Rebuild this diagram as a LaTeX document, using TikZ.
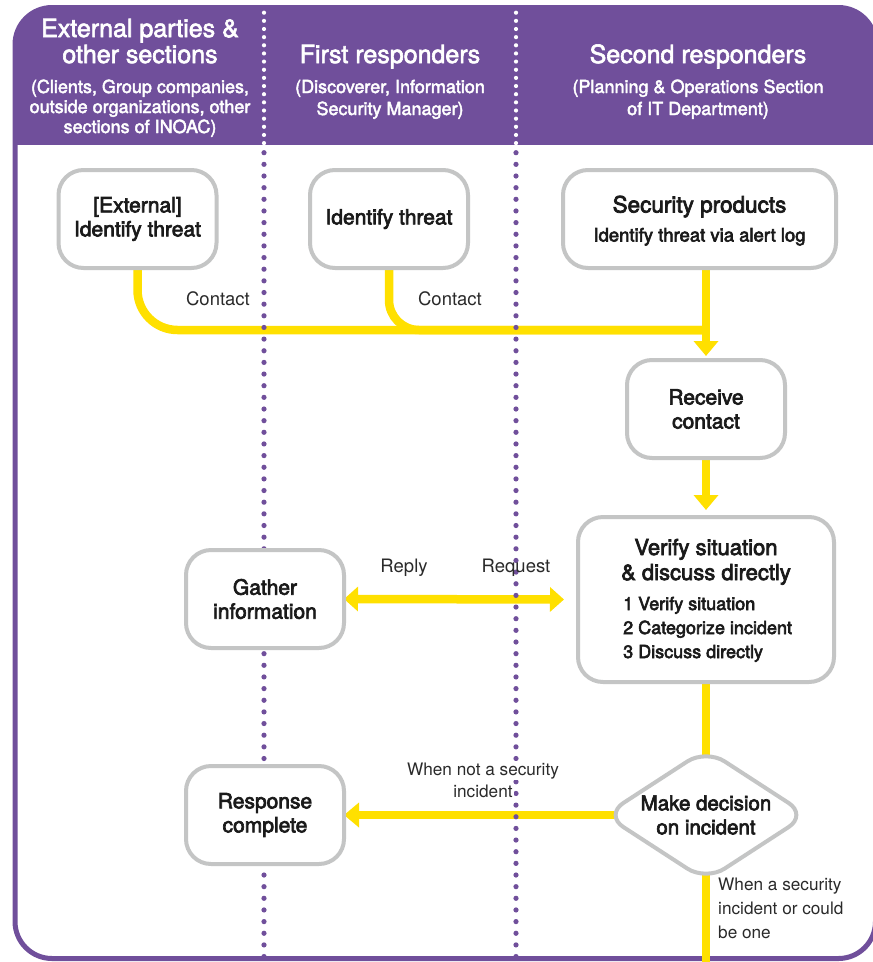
\documentclass[tikz,border=0pt]{standalone}
\usepackage{fontspec}
\setmainfont{TeX Gyre Heros}
\newfontfamily\medfont[FakeBold=3.2]{TeX Gyre Heros}
\newfontfamily\hdfont[FakeBold=2.5]{TeX Gyre Heros}
\usetikzlibrary{arrows.meta,shapes.geometric}
\definecolor{ipurple}{HTML}{704F9B}
\definecolor{iyellow}{HTML}{FFE000}
\definecolor{igray}{HTML}{C4C5C5}
\definecolor{itext}{HTML}{1A1A1A}
\definecolor{ilabel}{HTML}{2A2A2A}
\pgfdeclarelayer{bg}
\pgfdeclarelayer{lines}
\pgfdeclarelayer{dots}
\pgfsetlayers{bg,lines,dots,main}
\tikzset{
  box/.style={draw=igray, line width=4pt, rounded corners=25pt, fill=white,
    inner sep=0pt, align=center, text=itext,
    font=\medfont\fontsize{21}{24}\selectfont,
    minimum width=158pt, minimum height=98pt},
  dec/.style={diamond, aspect=1.54, draw=igray, line width=4pt, rounded corners=22pt,
    fill=white, inner sep=0pt, align=center, text=itext,
    font=\medfont\fontsize{20.5}{24}\selectfont,
    minimum width=204pt, minimum height=133pt},
  htitle/.style={anchor=base, text=white, inner sep=0pt, font=\hdfont\fontsize{25}{26}\selectfont},
  hsub/.style={anchor=base, text=white, inner sep=0pt, font=\hdfont\fontsize{18}{21}\selectfont},
  intxt/.style={anchor=base, text=itext, inner sep=0pt},
  lab/.style={anchor=base, text=ilabel, inner sep=0pt, font=\fontsize{18.5}{24}\selectfont},
  wlab/.style={anchor=base, text=ilabel, inner sep=1pt, font=\fontsize{17.2}{24}\selectfont},
  yline/.style={draw=iyellow, line width=8.5pt},
  ytip/.style={-{Triangle[width=24pt,length=15pt]}},
  hdots/.style={white, line width=4.2pt, line cap=round, dash pattern=on 0pt off 8.15pt},
  bdots/.style={ipurple, line width=5.2pt, line cap=round, dash pattern=on 0pt off 11.65pt},
}
\begin{document}
\begin{tikzpicture}[x=1pt, y=-1pt]
\useasboundingbox (0,0) rectangle (873,962);

% frame and header
\begin{pgfonlayer}{bg}
  \path[fill=white, rounded corners=37pt] (15,7.5) rectangle (875.5,958.5);
  \begin{scope}
    \clip[rounded corners=37pt] (15,7.5) rectangle (875.5,958.5);
    \fill[ipurple] (0,0) rectangle (880,145);
  \end{scope}
  \draw[ipurple, line width=5pt, rounded corners=37pt] (15,7.5) rectangle (875.5,958.5);
\end{pgfonlayer}

% lane separators
\begin{pgfonlayer}{dots}
  \foreach \lx in {264,516}{
    \draw[hdots] (\lx,12.7) -- (\lx,146);
    \draw[bdots] (\lx,152.7) -- (\lx,968);
  }
\end{pgfonlayer}

% header texts
\node[htitle] (t1a) at (140,37) {External parties \&};
\node[htitle] (t1b) at (140,63) {other sections};
\node[hsub] (s1a) at (140,93) {(Clients, Group companies,};
\node[hsub] (s1b) at (140,113) {outside organizations, other};
\node[hsub] (s1c) at (140,133) {sections of INOAC)};
\node[htitle] (t2) at (390,63) {First responders};
\node[hsub] (s2a) at (390,93) {(Discoverer, Information};
\node[hsub] (s2b) at (390,115) {Security Manager)};
\node[htitle] (t3) at (698,63) {Second responders};
\node[hsub] (s3a) at (698,93) {(Planning \& Operations Section};
\node[hsub] (s3b) at (698,115) {of IT Department)};

% boxes
\node[box] (ext) at (137.5,219) {[External]\\Identify threat};
\node[box] (idt) at (389,219) {Identify threat};
\node[box, minimum width=273pt] (sec) at (699.5,219) {};
\node[intxt, font=\medfont\fontsize{22.5}{26}\selectfont] (sec1) at (699.5,212.5) {Security products};
\node[intxt, font=\medfont\fontsize{18.5}{22}\selectfont] (sec2) at (699.5,241.5) {Identify threat via alert log};
\node[box] (recv) at (706,409) {Receive\\contact};
\node[box, minimum width=256pt, minimum height=165pt] (ver) at (706,599.5) {};
\node[intxt, font=\medfont\fontsize{22}{25}\selectfont] (v1) at (706,555) {Verify situation};
\node[intxt, font=\medfont\fontsize{22}{25}\selectfont] (v2) at (706,580) {\& discuss directly};
\node[intxt, anchor=base west, font=\medfont\fontsize{18}{24}\selectfont] (v3) at (623,610) {1 Verify situation};
\node[intxt, anchor=base west, font=\medfont\fontsize{18}{24}\selectfont] (v4) at (623,634) {2 Categorize incident};
\node[intxt, anchor=base west, font=\medfont\fontsize{18}{24}\selectfont] (v5) at (623,658) {3 Discuss directly};
\node[box] (gath) at (265,599) {Gather\\information};
\node[box] (resp) at (265,815) {Response\\complete};
\node[dec] (dec) at (706,815) {Make decision\\on incident};

% connector labels
\node[lab] (c1) at (218,305) {Contact};
\node[lab] (c2) at (450,305) {Contact};
\node[lab] (rep) at (404,572) {Reply};
\node[lab] (req) at (516,572) {Request};
\node[wlab, fill=white] (n1) at (483,775) {When not a security};
\node[wlab, fill=white] (n2) at (483,797) {incident};
\node[wlab, anchor=base west, inner sep=0pt] (y1) at (718,890) {When a security};
\node[wlab, anchor=base west, inner sep=0pt] (y2) at (718,914) {incident or could};
\node[wlab, anchor=base west, inner sep=0pt] (y3) at (718,938) {be one};

% connectors
\coordinate (jn) at (706,330);
\coordinate (dend) at (706,970);
\begin{pgfonlayer}{lines}
  \draw[yline, rounded corners=40pt] (ext.south) |- (jn);
  \draw[yline, rounded corners=30pt] (idt.south) |- (jn);
  \draw[yline, ytip, shorten >=2pt] (recv.north |- sec.south) -- (recv.north);
  \draw[yline, ytip, shorten >=5pt] (recv.south) -- (ver.north);
  \draw[yline, {Triangle[width=24pt,length=14pt]}-{Triangle[width=24pt,length=14pt]},
        shorten <=-2pt, shorten >=12pt] (gath.east) -- (ver.west);
  \draw[yline] (ver.south) -- (dec.center);
  \draw[yline, ytip, shorten >=-2pt] (dec.center) -- (resp.east);
  \draw[yline] (dec.center) -- (dend);
\end{pgfonlayer}
\end{tikzpicture}
\end{document}
